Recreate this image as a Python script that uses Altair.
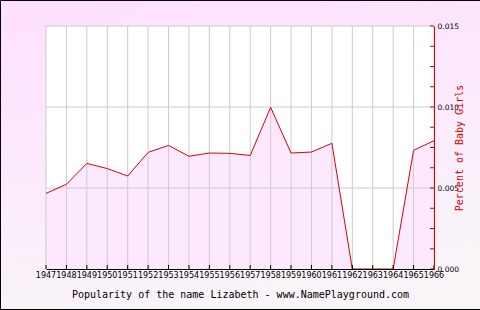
import altair as alt
import pandas as pd

years = list(range(1947, 1967))
values = [0.00467, 0.00523, 0.00652, 0.00620, 0.00574, 0.00720, 0.00763, 0.00696,
          0.00716, 0.00714, 0.00701, 0.00998, 0.00716, 0.00722, 0.00776,
          0.0, 0.0, 0.0, 0.00733, 0.00792]
year_labels = [str(y) for y in years]
ytick_values = [0.0, 0.00125, 0.0025, 0.00375, 0.005, 0.00625, 0.0075, 0.00875,
                0.01, 0.01125, 0.0125, 0.01375, 0.015]
ygrid_values = [0.005, 0.010, 0.015]
label_values = [0.0, 0.005, 0.010, 0.015]

W, H = 388, 243
df = pd.DataFrame({"year": years, "pct": values})
df_ticks = pd.DataFrame({"v": ytick_values})
df_grid = pd.DataFrame({"v": ygrid_values})
df_years = pd.DataFrame({"year": years, "label": year_labels})

xscale = alt.Scale(domain=[1947, 1966], nice=False, zero=False)
yscale = alt.Scale(domain=[0, 0.015], nice=False)

anchor = pd.DataFrame({"a": [0]})

bg = alt.Chart(anchor).mark_rect(
    fill=alt.Gradient(gradient="linear",
                      stops=[alt.GradientStop(color="#ffdfff", offset=0),
                             alt.GradientStop(color="#f8f4f8", offset=1)],
                      x1=0, y1=0, x2=0.3, y2=1),
    stroke="black", strokeWidth=1
).encode(x=alt.value(-45.5), x2=alt.value(437), y=alt.value(-25.5), y2=alt.value(283.5))

plotbg = alt.Chart(anchor).mark_rect(fill="white").encode(
    x=alt.value(0), x2=alt.value(W), y=alt.value(0), y2=alt.value(H))

area = alt.Chart(df).mark_area(color="#fde9fd", opacity=1).encode(
    x=alt.X("year:Q", scale=xscale,
            axis=alt.Axis(values=years, grid=False, ticks=False, labels=False,
                          domainColor="black", zindex=2,
                          title="Popularity of the name Lizabeth - www.NamePlayground.com",
                          titleFont="DejaVu Sans Mono", titleFontSize=10,
                          titleFontWeight="normal", titleColor="black",
                          titleBaseline="top", titleY=20)),
    y=alt.Y("pct:Q", scale=yscale,
            axis=alt.Axis(orient="right", values=label_values, format=".3f",
                          grid=False, ticks=False, domainColor="#dd0000",
                          labelFont="DejaVu Sans", labelFontSize=7.5, labelColor="black",
                          labelPadding=3, labelBaseline="middle", zindex=2,
                          title="Percent of Baby Girls", titleColor="#dd0000",
                          titleFont="DejaVu Sans Mono", titleFontSize=10,
                          titleFontWeight="normal", titleAngle=270,
                          titleAlign="center", titleBaseline="middle",
                          titleX=25, titleY=H / 2)),
)

vgrid = alt.Chart(df_years).mark_rule(color="#cccccc", strokeWidth=1).encode(
    x=alt.X("year:Q", scale=xscale), y=alt.value(0), y2=alt.value(H))
hgrid = alt.Chart(df_grid).mark_rule(color="#cccccc", strokeWidth=1).encode(
    y=alt.Y("v:Q", scale=yscale), x=alt.value(0), x2=alt.value(W))

line = alt.Chart(df).mark_line(color="#dd0000", strokeWidth=1).encode(
    x=alt.X("year:Q", scale=xscale), y=alt.Y("pct:Q", scale=yscale))

yticks = alt.Chart(df_ticks).mark_rule(color="#dd0000", strokeWidth=1).encode(
    y=alt.Y("v:Q", scale=yscale), x=alt.value(W - 4), x2=alt.value(W))
xticks = alt.Chart(df_years).mark_rule(color="black", strokeWidth=1).encode(
    x=alt.X("year:Q", scale=xscale), y=alt.value(H - 4), y2=alt.value(H))

xlabels = alt.Chart(df_years).mark_text(
    font="DejaVu Sans", fontSize=8, baseline="top", align="center", color="black"
).encode(x=alt.X("year:Q", scale=xscale), y=alt.value(H + 3), text="label:N")

chart = alt.layer(bg, plotbg, area, vgrid, hgrid, line, yticks, xticks, xlabels).properties(
    width=W, height=H,
    autosize=alt.AutoSizeParams(type="none"),
    padding={"left": 46, "top": 26, "right": 46, "bottom": 41},
    background="white",
).configure_view(stroke=None)

chart.save("out.html", embed_options={"renderer": "svg", "actions": False})
